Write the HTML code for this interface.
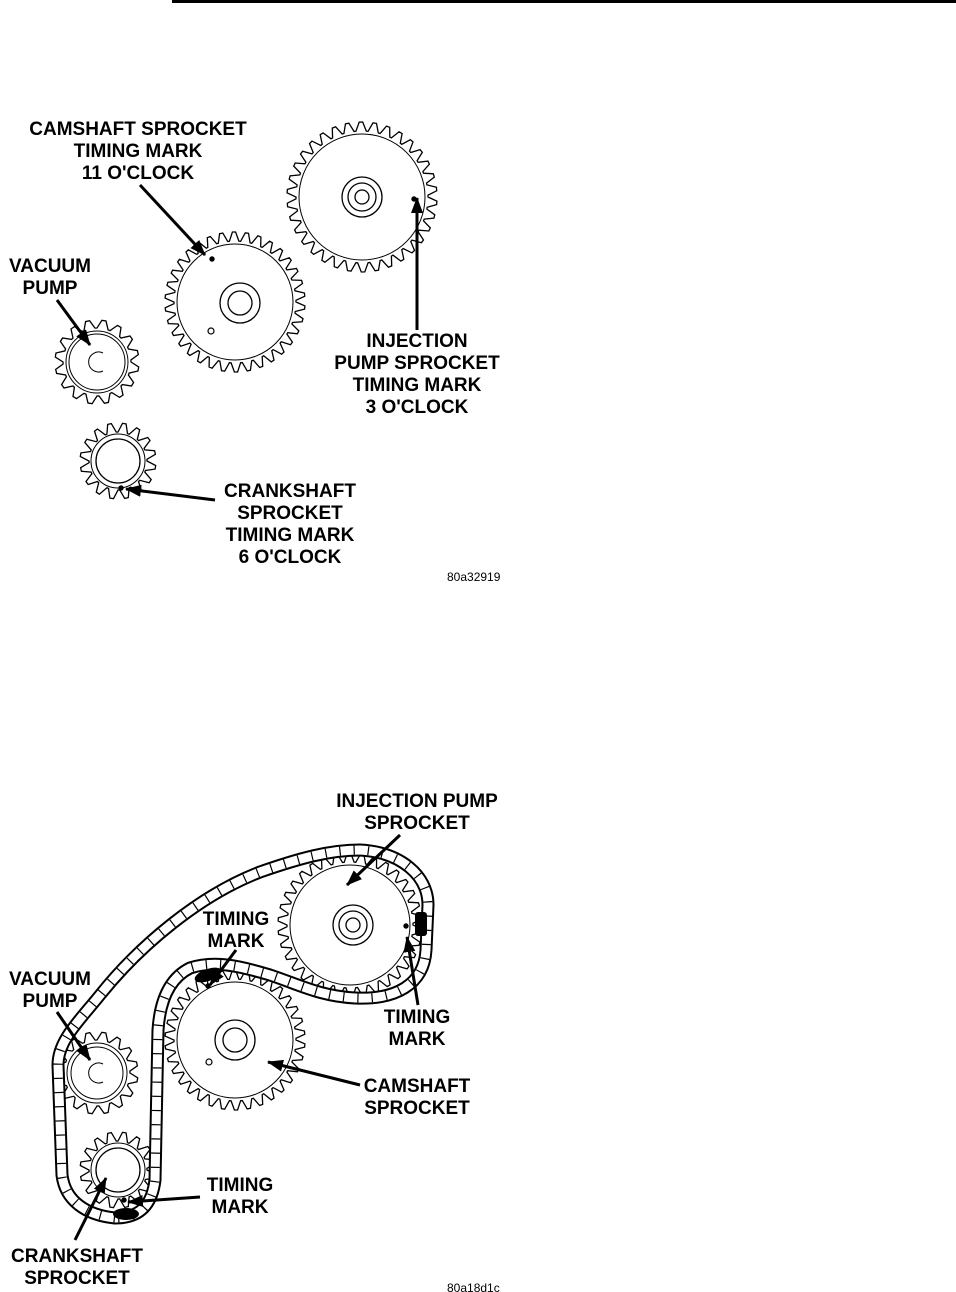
<!DOCTYPE html>
<html><head><meta charset="utf-8"><style>
html,body{margin:0;padding:0;background:#fff}
svg{display:block}
text{font-family:"Liberation Sans",Arial,sans-serif;font-weight:bold;font-size:19px;fill:#000;text-anchor:middle}
.s{font-size:12px;font-weight:normal;text-anchor:start}
</style></head><body>
<svg id="sv" width="956" height="1292" viewBox="0 0 956 1292" xmlns="http://www.w3.org/2000/svg">
<defs><marker id="a" markerWidth="16" markerHeight="12" refX="15" refY="6" orient="auto" markerUnits="userSpaceOnUse"><path d="M0,0 L16,6 L0,12 z" fill="#000"/></marker>
<path id="ch" d="M115,1218 C85,1215 65,1200 62,1175 L58,1065 C58,1040 80,1020 100,995 C140,945 200,895 260,872 C300,858 330,850 360,850 C400,852 428,875 428,905 L426,950 C424,985 395,1000 355,998 C320,996 300,985 270,975 C240,966 215,960 190,968 C170,978 160,1000 158,1030 L155,1180 C152,1205 140,1218 115,1218 Z"/>
</defs>
<line x1="172" y1="1.5" x2="956" y2="1.5" stroke="#000" stroke-width="3"/>
<g id="gears" fill="none" stroke="#000"></g>

<g fill="none" stroke-linejoin="round">
<use href="#ch" stroke="#000" stroke-width="13"/>
<use href="#ch" stroke="#fff" stroke-width="9"/>
<use href="#ch" stroke="#000" stroke-width="9" stroke-dasharray="1.2 13"/>
</g>
<g fill="#000">
<ellipse cx="208" cy="975" rx="14" ry="6" transform="rotate(-20 208 975)"/>
<rect x="415" y="912" width="12" height="24" rx="3"/>
<ellipse cx="126" cy="1214" rx="13" ry="6"/>
</g>

<g stroke="#000" stroke-width="3" fill="none">
<line x1="140" y1="185" x2="205" y2="255" marker-end="url(#a)"/>
<line x1="57" y1="300" x2="90" y2="345" marker-end="url(#a)"/>
<line x1="417" y1="330" x2="417" y2="198" marker-end="url(#a)"/>
<line x1="215" y1="500" x2="126" y2="489" marker-end="url(#a)"/>
<line x1="400" y1="835" x2="347" y2="885" marker-end="url(#a)"/>
<line x1="236" y1="950" x2="210" y2="985" marker-end="url(#a)"/>
<line x1="57" y1="1012" x2="90" y2="1060" marker-end="url(#a)"/>
<line x1="418" y1="1005" x2="407" y2="937" marker-end="url(#a)"/>
<line x1="360" y1="1085" x2="268" y2="1062" marker-end="url(#a)"/>
<line x1="200" y1="1197" x2="128" y2="1202" marker-end="url(#a)"/>
<line x1="75" y1="1240" x2="106" y2="1178" marker-end="url(#a)"/>
</g>

<text x="138" y="135">CAMSHAFT SPROCKET</text>
<text x="138" y="157">TIMING MARK</text>
<text x="138" y="179">11 O'CLOCK</text>
<text x="50" y="272">VACUUM</text>
<text x="50" y="294">PUMP</text>
<text x="417" y="347">INJECTION</text>
<text x="417" y="369">PUMP SPROCKET</text>
<text x="417" y="391">TIMING MARK</text>
<text x="417" y="413">3 O'CLOCK</text>
<text x="290" y="497">CRANKSHAFT</text>
<text x="290" y="519">SPROCKET</text>
<text x="290" y="541">TIMING MARK</text>
<text x="290" y="563">6 O'CLOCK</text>
<text class="s" x="447" y="581">80a32919</text>

<text x="417" y="807">INJECTION PUMP</text>
<text x="417" y="829">SPROCKET</text>
<text x="236" y="925">TIMING</text>
<text x="236" y="947">MARK</text>
<text x="50" y="985">VACUUM</text>
<text x="50" y="1007">PUMP</text>
<text x="417" y="1023">TIMING</text>
<text x="417" y="1045">MARK</text>
<text x="417" y="1092">CAMSHAFT</text>
<text x="417" y="1114">SPROCKET</text>
<text x="240" y="1191">TIMING</text>
<text x="240" y="1213">MARK</text>
<text x="77" y="1262">CRANKSHAFT</text>
<text x="77" y="1284">SPROCKET</text>
<text class="s" x="447" y="1292">80a18d1c</text>
</svg>
<script>
var g=document.getElementById('gears'),NS="http://www.w3.org/2000/svg";
function el(t,a){var e=document.createElementNS(NS,t);for(var k in a)e.setAttribute(k,a[k]);g.appendChild(e);return e;}
function gear(cx,cy,R,r,n,ir){var d="";for(var i=0;i<n;i++){var a=i*2*Math.PI/n,s=2*Math.PI/n;var pts=[[r,a],[R,a+s*0.3],[R,a+s*0.55],[r,a+s*0.85]];pts.forEach(function(p,j){d+=(i==0&&j==0?"M":"L")+(cx+p[0]*Math.cos(p[1])).toFixed(1)+","+(cy+p[0]*Math.sin(p[1])).toFixed(1);});}
el('path',{d:d+"Z","stroke-width":1.3,fill:"#fff"});el('circle',{cx:cx,cy:cy,r:ir,"stroke-width":1});}
function hub(cx,cy,r1,r2){el('circle',{cx:cx,cy:cy,r:r1,"stroke-width":1.3});el('circle',{cx:cx,cy:cy,r:r2,"stroke-width":1.3});}
function dot(x,y){el('circle',{cx:x,cy:y,r:2.2,fill:"#000"});}
gear(362,197,75,66,34,63);hub(362,197,20,14);el('circle',{cx:362,cy:197,r:7,"stroke-width":1.3});dot(414,199);
gear(235,302,70,61,34,58);hub(240,303,20,12);el('circle',{cx:211,cy:331,r:3,"stroke-width":1.2});dot(212,259);
gear(97,362,42,34,16,31);el('circle',{cx:97,cy:362,r:28,"stroke-width":1});el('path',{d:"M103,353 A10,10 0 1 0 103,371","stroke-width":1});
gear(118,461,38,29,16,27);el('circle',{cx:118,cy:461,r:22,"stroke-width":1.3});dot(121,488);
gear(350,925,72,63,34,60);hub(353,925,20,14);el('circle',{cx:353,cy:925,r:7,"stroke-width":1.3});dot(406,926);
gear(235,1040,70,61,34,58);hub(235,1040,20,12);el('circle',{cx:209,cy:1062,r:3,"stroke-width":1.2});dot(208,986);
gear(97,1073,41,33,16,30);el('circle',{cx:97,cy:1073,r:26,"stroke-width":1});el('path',{d:"M103,1064 A10,10 0 1 0 103,1082","stroke-width":1});
gear(118,1170,38,29,16,27);el('circle',{cx:118,cy:1170,r:22,"stroke-width":1.3});dot(124,1200);
</script>
</body></html>
